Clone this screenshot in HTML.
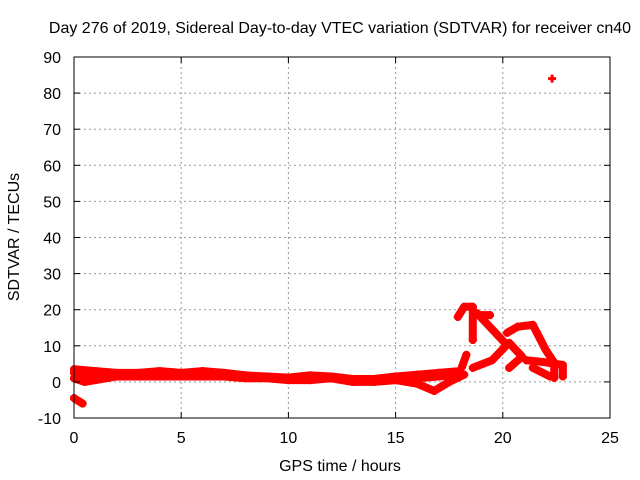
<!DOCTYPE html>
<html><head><meta charset="utf-8"><style>
body{margin:0;background:#fff}
svg{display:block;font-family:"Liberation Sans",sans-serif}
</style></head><body>
<svg id="chart" width="640" height="480" viewBox="0 0 640 480">
<rect width="640" height="480" fill="#fff"/>
<text x="340" y="33" font-size="16" text-anchor="middle">Day 276 of 2019, Sidereal Day-to-day VTEC variation (SDTVAR) for receiver cn40</text>
<text x="340" y="471" font-size="16" text-anchor="middle">GPS time / hours</text>
<text transform="translate(19,237) rotate(-90)" font-size="16" text-anchor="middle">SDTVAR / TECUs</text>
<g id="grid"></g>
<g id="marks"></g>
<rect x="74" y="57" width="536" height="361" fill="none" stroke="#000" stroke-width="1"/>
<g id="ticks"></g>
</svg>
<script>
const xTicks=[0,5,10,15,20,25];
const yTicks=[-10,0,10,20,30,40,50,60,70,80,90];
const trackUpper=[[0,3.5],[1,3],[2,2.5],[3,2.5],[4,3],[5,2.5],[6,3],[7,2.5],[8,1.8],[9,1.5],[10,1.2],[11,1.8],[12,1.5],[13,0.8],[14,0.8],[15,1.5],[16,2],[17,2.5],[18,3]];
const trackMiddle=[[0,2.5],[1,1.5],[2,2],[3,2],[4,2],[5,2],[6,2.5],[7,2],[8,1.5],[9,1.2],[10,1],[11,1.2],[12,1],[13,0.5],[14,0.5],[15,1],[16,1],[17,1.5],[18,2]];
const trackLower=[[0,1],[0.5,0],[1,0.5],[2,1.5],[3,1.5],[4,1.5],[5,1.5],[6,1.5],[7,1.5],[8,1],[9,1],[10,0.5],[11,0.5],[12,1],[13,0],[14,0],[15,0.5],[16,-0.5],[16.8,-2.5],[17.5,0],[18.2,2]];
const trackShort=[[0,-4.5],[0.4,-6]];
const trackRise=[[18.1,4.2],[18.3,7.5]];
const trackArc=[[17.9,18],[18.2,20.8],[18.6,20.8],[18.6,11.6]];
const trackBranch=[[19.0,18.5],[19.4,18.5]];
const trackDiag=[[18.8,19],[20.1,10.8]];
const trackMid=[[18.6,3.9],[19.5,6],[20.1,9.7]];
const trackHump=[[20.2,13.6],[20.7,15.3],[21.4,15.8],[22,8.9],[22.4,5.3],[22.4,1.1]];
const trackHook=[[20.3,3.9],[20.9,7],[20.3,10.8]];
const trackTail=[[21.1,6],[21.9,5.5],[22.8,4.7],[22.8,1.5]];
const trackLoop=[[21.4,3.9],[22.2,1.5]];
const trackOutlier=[[22.3,84]];
const allTracks=[trackUpper,trackMiddle,trackLower,trackShort,trackRise,trackArc,trackBranch,trackDiag,trackMid,trackHump,trackHook,trackTail,trackLoop,trackOutlier];
const X0=74,X1=610,Y0=418,Y1=57;
const xs=v=>X0+(v-0)/(25-0)*(X1-X0);
const ys=v=>Y0-(v+10)/(100)*(Y0-Y1);
const NS="http://www.w3.org/2000/svg";
const grid=document.getElementById('grid'),ticks=document.getElementById('ticks'),marks=document.getElementById('marks');
function mk(tag,attrs,parent){const e=document.createElementNS(NS,tag);for(const k in attrs)e.setAttribute(k,attrs[k]);parent.appendChild(e);return e;}
xTicks.forEach(t=>{const x=xs(t);
 if(t>0&&t<25){const l=mk('line',{x1:x,x2:x,y1:Y1,y2:Y0,stroke:'#999','stroke-dasharray':'2,3'},grid);
 
 }
 mk('line',{x1:x,x2:x,y1:Y0,y2:Y0-6,stroke:'#000'},ticks);mk('line',{x1:x,x2:x,y1:Y1,y2:Y1+6,stroke:'#000'},ticks);
 const tx=mk('text',{x:x,y:Y0+25,'font-size':16,'text-anchor':'middle'},ticks);tx.textContent=t;
 
 });
yTicks.forEach(t=>{const y=ys(t);
 if(t>-10&&t<90){const l=mk('line',{x1:X0,x2:X1,y1:y,y2:y,stroke:'#999','stroke-dasharray':'2,3'},grid);
 
 }
 mk('line',{x1:X0,x2:X0+6,y1:y,y2:y,stroke:'#000'},ticks);mk('line',{x1:X1,x2:X1-6,y1:y,y2:y,stroke:'#000'},ticks);
 const tx=mk('text',{x:X0-13,y:y+6,'font-size':16,'text-anchor':'end'},ticks);tx.textContent=t;
 
 });
allTracks.forEach(tr=>{
 if(tr.length>1){const pl=mk('polyline',{points:tr.map(p=>xs(p[0])+','+ys(p[1])).join(' '),fill:'none',stroke:'#f00','stroke-width':8,'stroke-linejoin':'round','stroke-linecap':'round'},marks);
 
 }
 tr.forEach(p=>{const x=xs(p[0]),y=ys(p[1]);
  const m=mk('path',{d:`M${x-4},${y}H${x+4}M${x},${y-4}V${y+4}`,stroke:'#f00','stroke-width':3},marks);
  
  });
});
</script>
</body></html>
